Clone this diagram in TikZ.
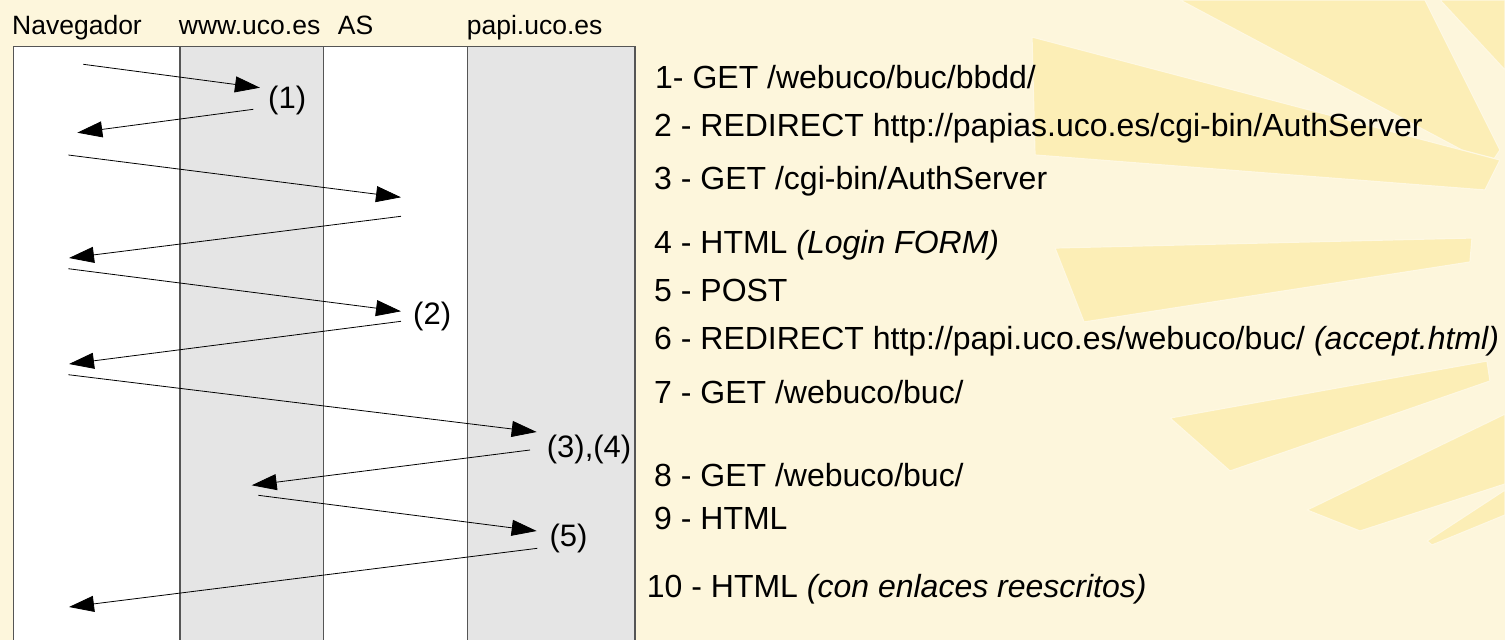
\documentclass[tikz,border=0pt]{standalone}
\usepackage{fontspec}
\setmainfont{Liberation Sans}
\usetikzlibrary{arrows.meta}

\definecolor{bgcream}{RGB}{253,246,220}
\definecolor{raygold}{RGB}{252,238,182}
\definecolor{rayedge}{RGB}{254,248,226}
\definecolor{lanegray}{RGB}{229,229,229}
\definecolor{laneline}{RGB}{85,85,85}

\begin{document}
\begin{tikzpicture}[x=1pt,y=-1pt,
  msg/.style={draw=black, line width=0.8pt, -{Triangle[length=25pt,width=16pt]}},
  hdr/.style={anchor=base west, inner sep=0pt, font=\fontsize{26.5}{30}\selectfont},
  tag/.style={anchor=base west, inner sep=0pt, font=\fontsize{31}{36}\selectfont},
  item/.style={anchor=base west, inner sep=0pt, font=\fontsize{32}{38}\selectfont},
  ray/.style={fill=raygold, draw=rayedge, line width=1.2pt, line join=round},
  lane/.style={draw=laneline, line width=1.1pt}]

% page and background
\fill[bgcream] (0,0) rectangle (1505,640);
\useasboundingbox (0,0) rectangle (1505,640);
\clip (0,0) rectangle (1505,640);

% sun rays
\filldraw[ray] (1180,0) -- (1425,0) -- (1500,150) -- (1490,165) -- cycle;
\filldraw[ray] (1440,0) -- (1505,0) -- (1505,70) -- cycle;
\filldraw[ray] (1032,37) -- (1500,160) -- (1485,190) -- (1035,155) -- cycle;
\filldraw[ray] (1055,248) -- (1472,238) -- (1470,262) -- (1084,322) -- cycle;
\filldraw[ray] (1170,418) -- (1487,361) -- (1490,381) -- (1230,471) -- cycle;
\filldraw[ray] (1307,510) -- (1505,414) -- (1505,484) -- (1360,531) -- cycle;
\filldraw[ray] (1427,541) -- (1505,490) -- (1505,515) -- (1432,545) -- cycle;

% swim lanes
\fill[white]    (13.3,46.7) rectangle (180,650);
\fill[lanegray] (180,46.7) rectangle (323.7,650);
\fill[white]    (323.7,46.7) rectangle (467.7,650);
\fill[lanegray] (467.7,46.7) rectangle (635,650);
\draw[lane] (13.3,650) -- (13.3,46.7) -- (635,46.7) -- (635,650);
\draw[lane] (180,46.7) -- (180,650);
\draw[lane] (323.7,46.7) -- (323.7,650);
\draw[lane] (467.7,46.7) -- (467.7,650);

% lane headers
\node[hdr] (hnav) at (12,34)    {Navegador};
\node[hdr] (hwww) at (178.7,34) {www.uco.es};
\node[hdr] (has)  at (337.7,34) {AS};
\node[hdr] (hpapi) at (466.7,34) {papi.uco.es};

% message end points
\coordinate (m1a) at (83.3,64.3);   \coordinate (m1b) at (260,87.7);
\coordinate (m2a) at (253.3,109.3); \coordinate (m2b) at (77.3,132.7);
\coordinate (m3a) at (68.3,155);    \coordinate (m3b) at (401,197.3);
\coordinate (m4a) at (401,216.3);   \coordinate (m4b) at (69,258);
\coordinate (m5a) at (68.3,268.7);  \coordinate (m5b) at (401,311.3);
\coordinate (m6a) at (401,321.3);   \coordinate (m6b) at (69,364);
\coordinate (m7a) at (68.3,374.7);  \coordinate (m7b) at (536.7,432);
\coordinate (m8a) at (530,450);     \coordinate (m8b) at (251.7,485.3);
\coordinate (m9a) at (258.3,495.3); \coordinate (m9b) at (536.7,531);
\coordinate (m10a) at (537.3,548.3); \coordinate (m10b) at (69,607);

% messages
\draw[msg] (m1a) -- (m1b);
\draw[msg] (m2a) -- (m2b);
\draw[msg] (m3a) -- (m3b);
\draw[msg] (m4a) -- (m4b);
\draw[msg] (m5a) -- (m5b);
\draw[msg] (m6a) -- (m6b);
\draw[msg] (m7a) -- (m7b);
\draw[msg] (m8a) -- (m8b);
\draw[msg] (m9a) -- (m9b);
\draw[msg] (m10a) -- (m10b);

% step tags
\node[tag] (t1)  at (268,108.5)   {(1)};
\node[tag] (t2)  at (413,324.8)   {(2)};
\node[tag] (t34) at (546.7,457.5) {(3),(4)};
\node[tag] (t5)  at (549.3,546)   {(5)};

% request list
\node[item] (l1)  at (655,88.3)  {1- GET /webuco/buc/bbdd/};
\node[item] (l2)  at (654,136.7) {2 - REDIRECT http://papias.uco.es/cgi-bin/AuthServer};
\node[item] (l3)  at (654,189.3) {3 - GET /cgi-bin/AuthServer};
\node[item] (l4)  at (654,253)   {4 - HTML \textit{(Login FORM)}};
\node[item] (l5)  at (654,301.3) {5 - POST};
\node[item] (l6)  at (654,349.7) {6 - REDIRECT http://papi.uco.es/webuco/buc/ \textit{(accept.html)}};
\node[item] (l7)  at (654,403)   {7 - GET /webuco/buc/};
\node[item] (l8)  at (654,486)   {8 - GET /webuco/buc/};
\node[item] (l9)  at (654,529.3) {9 - HTML};
\node[item] (l10) at (646.7,597.7) {10 - HTML \textit{(con enlaces reescritos)}};
\end{tikzpicture}
\end{document}
